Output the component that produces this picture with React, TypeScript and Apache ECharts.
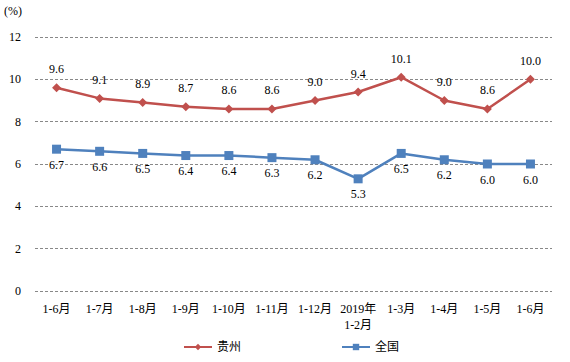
import React, { useEffect, useRef } from "react";
import * as echarts from "echarts";

const categories = ["1-6月", "1-7月", "1-8月", "1-9月", "1-10月", "1-11月", "1-12月", "2019年\n1-2月", "1-3月", "1-4月", "1-5月", "1-6月"];
const guizhou = [9.6, 9.1, 8.9, 8.7, 8.6, 8.6, 9.0, 9.4, 10.1, 9.0, 8.6, 10.0];
const national = [6.7, 6.6, 6.5, 6.4, 6.4, 6.3, 6.2, 5.3, 6.5, 6.2, 6.0, 6.0];

const FONT = "'Liberation Serif', 'Times New Roman', 'Noto Sans CJK SC', serif";

export default function App() {
  const ref = useRef<HTMLDivElement>(null);
  useEffect(() => {
    const chart = echarts.init(ref.current!, null, { renderer: "svg" });
    chart.setOption({
      animation: false,
      textStyle: { fontFamily: FONT },
      grid: { left: 35, right: 18, top: 37, bottom: 71 },
      graphic: [
        { type: "text", left: 4, top: 5, style: { text: "(%)", fontSize: 12, fontFamily: FONT, fill: "#000" } },
      ],
      legend: {
        top: 341,
        left: 183,
        padding: 0,
        itemGap: 100,
        itemWidth: 28,
        itemHeight: 8,
        textStyle: { fontSize: 12, color: "#000", fontFamily: FONT },
        data: ["贵州", "全国"],
      },
      xAxis: {
        type: "category",
        data: categories,
        boundaryGap: true,
        axisLine: { show: false },
        axisTick: { show: false },
        axisLabel: { color: "#000", fontSize: 12, margin: 10, interval: 0, lineHeight: 16, fontFamily: FONT },
      },
      yAxis: {
        type: "value",
        min: 0,
        max: 12,
        interval: 2,
        axisLine: { show: false },
        axisTick: { show: false },
        axisLabel: { color: "#000", fontSize: 12, margin: 14, fontFamily: FONT },
        splitLine: { lineStyle: { type: [3, 2], color: "#888", width: 1 } },
      },
      series: [
        {
          name: "贵州",
          type: "line",
          data: guizhou,
          symbol: "diamond",
          symbolSize: 9,
          itemStyle: { color: "#C0504D" },
          lineStyle: { width: 2.5, color: "#C0504D" },
          label: {
            show: true,
            position: "top",
            distance: 8,
            color: "#000",
            fontSize: 12,
            fontFamily: FONT,
            formatter: (p: any) => p.value.toFixed(1),
          },
        },
        {
          name: "全国",
          type: "line",
          data: national,
          symbol: "rect",
          symbolSize: 9,
          itemStyle: { color: "#4F81BD" },
          lineStyle: { width: 2.5, color: "#4F81BD" },
          label: {
            show: true,
            position: "bottom",
            distance: 5,
            color: "#000",
            fontSize: 12,
            fontFamily: FONT,
            formatter: (p: any) => p.value.toFixed(1),
          },
        },
      ],
    });
    return () => chart.dispose();
  }, []);
  return <div ref={ref} style={{ position: "absolute", left: 0, top: 0, width: 570, height: 362 }} />;
}
